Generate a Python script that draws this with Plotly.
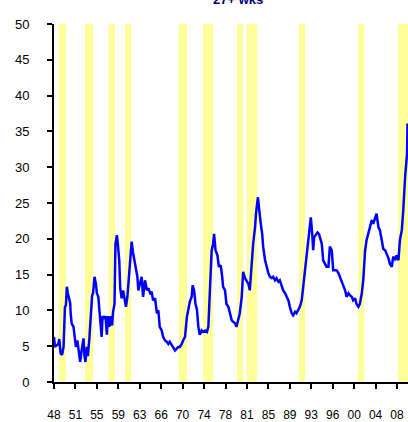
import plotly.graph_objects as go

# Monthly series
dates = [
    "1948-01","1948-03","1948-10","1948-12","1949-03","1949-06","1949-09","1949-10","1949-12","1950-02",
    "1950-04","1950-06","1950-11","1950-12","1951-02","1951-06","1951-08","1951-11","1952-02","1952-05",
    "1952-08","1952-11","1953-03","1953-05","1953-07","1953-10","1953-12","1954-03","1954-06","1954-09",
    "1954-11","1955-02","1955-05","1955-07","1955-10","1955-12","1956-03","1956-05","1956-07","1956-10",
    "1957-01","1957-04","1957-06","1957-09","1957-12","1958-03","1958-05","1958-08","1958-10","1959-01",
    "1959-03","1959-06","1959-08","1959-11","1960-02","1960-05","1960-08","1960-11","1961-02","1961-05",
    "1961-08","1961-11","1962-02","1962-05","1962-08","1962-10","1963-02","1963-05","1963-08","1963-12",
    "1964-04","1964-07","1964-11","1965-02","1965-05","1965-09","1966-01","1966-04","1966-07","1966-11",
    "1967-02","1967-06","1967-10","1968-01","1968-04","1968-08","1968-11","1969-03","1969-07","1969-10",
    "1970-01","1970-05","1970-08","1970-12","1971-04","1971-07","1971-10","1972-02","1972-04","1972-07",
    "1972-10","1973-01","1973-04","1973-07","1973-11","1974-02","1974-06","1974-10","1975-01","1975-04",
    "1975-08","1975-11","1976-01","1976-04","1976-08","1976-11","1977-03","1977-06","1977-08","1977-12",
    "1978-03","1978-07","1978-10","1979-02","1979-05","1979-09","1979-12","1980-04","1980-07","1980-11",
    "1981-02","1981-06","1981-09","1982-01","1982-04","1982-06","1982-08","1982-11","1983-03","1983-05",
    "1983-09","1983-12","1984-03","1984-06","1984-08","1984-12","1985-03","1985-07","1985-10","1986-02",
    "1986-05","1986-09","1986-12","1987-04","1987-07","1987-11","1988-02","1988-06","1988-09","1989-01",
    "1989-04","1989-08","1989-11","1990-03","1990-06","1990-10","1991-01","1991-05","1991-08","1991-12",
    "1992-03","1992-07","1992-10","1992-12","1993-03","1993-05","1993-07","1993-11","1994-02","1994-05",
    "1994-07","1994-11","1995-02","1995-06","1995-09","1996-01","1996-04","1996-08","1996-11","1997-03",
    "1997-06","1997-10","1998-01","1998-05","1998-08","1998-12","1999-03","1999-07","1999-10","2000-02",
    "2000-05","2000-09","2000-12","2001-04","2001-07","2001-11","2002-02","2002-06","2002-09","2003-01",
    "2003-04","2003-08","2003-11","2004-03","2004-06","2004-10","2005-01","2005-05","2005-08","2005-12",
    "2006-03","2006-07","2006-10","2007-02","2007-05","2007-09","2007-12","2008-04","2008-07","2008-11",
    "2009-02","2009-04","2009-06","2009-10","2009-11",
]
values = [
    6.3,4.9,5.3,6.0,4.0,3.8,4.9,7.7,10.5,10.7,
    13.3,12.4,11.0,9.6,8.2,7.7,6.3,4.9,5.8,4.0,
    2.8,4.4,6.1,3.6,2.8,4.9,3.6,5.8,8.6,12.1,
    12.4,14.7,13.7,12.4,11.9,10.1,8.6,6.3,9.2,8.8,
    9.2,6.6,9.2,7.7,9.2,7.9,9.8,10.9,19.3,20.5,
    19.3,17.0,13.1,11.7,12.8,11.4,10.5,11.9,14.7,17.5,
    19.6,18.0,17.0,16.2,14.7,12.8,14.2,14.7,11.9,14.2,
    12.8,13.1,12.4,12.6,11.4,11.7,9.6,10.0,7.7,7.2,
    6.3,5.8,5.6,5.3,5.6,5.1,4.9,4.4,4.7,4.9,
    4.9,5.3,5.8,6.3,9.1,10.5,11.2,11.9,13.5,12.8,
    10.9,10.1,7.7,6.6,7.2,7.0,7.2,7.0,7.7,12.4,
    18.4,19.3,20.7,18.4,17.7,16.1,16.3,14.7,13.3,12.8,
    10.9,10.5,9.6,8.6,8.4,8.2,7.7,9.1,9.6,11.9,
    15.4,14.5,14.2,13.7,12.8,14.7,16.8,19.3,21.6,23.5,
    25.8,23.5,22.1,20.7,18.9,17.0,16.1,15.2,14.7,14.5,
    14.7,14.2,14.5,14.0,14.2,13.3,12.8,12.4,11.9,11.4,
    10.5,9.6,9.3,9.8,9.6,10.1,10.5,11.4,13.3,15.2,
    17.0,19.3,21.6,23.0,20.7,18.4,20.2,20.7,20.9,20.7,
    20.2,19.3,17.0,16.5,16.1,16.1,18.9,18.4,15.6,15.6,
    15.6,15.2,14.7,14.2,13.7,12.8,11.9,12.4,12.1,11.9,
    11.4,11.7,10.9,10.5,10.9,12.4,14.2,18.4,19.8,20.7,
    21.6,22.6,22.1,23.0,23.5,21.6,21.2,19.8,18.6,18.4,
    17.9,17.3,16.5,16.1,17.5,17.0,17.7,17.0,19.8,21.2,
    24.0,27.0,28.7,31.9,36.1,
]

# Shaded periods (start, end)
shade_start = ["1948-11","1953-06","1957-08","1960-06","1969-11","1974-02",
               "1980-01","1981-10","1990-11","2001-03","2008-03"]
shade_end   = ["1950-02","1954-11","1958-09","1961-07","1971-04","1975-11",
               "1981-02","1983-07","1991-12","2002-04","2009-12"]

tick_dates = ["1948-01","1951-10","1955-07","1959-04","1963-01","1966-10","1970-07",
              "1974-04","1978-01","1981-10","1985-07","1989-04","1993-01","1996-10",
              "2000-07","2004-04","2008-01"]
tick_labels = ["48","51","55","59","63","66","70","74","78","81","85","89","93","96",
               "00","04","08"]
y_ticks = [0,5,10,15,20,25,30,35,40,45,50]

fig = go.Figure()
for s, e in zip(shade_start, shade_end):
    fig.add_vrect(x0=s + "-01", x1=e + "-01", fillcolor="#FFFF99", opacity=1,
                  line_width=0, layer="below")

fig.add_trace(go.Scatter(x=[d + "-01" for d in dates], y=values, mode="lines",
                         line=dict(color="#0000FF", width=2.5), showlegend=False))

fig.add_annotation(text="<b>27+ wks</b>", x=0.52, y=1.041, xref="paper", yref="paper",
                   xanchor="center", yanchor="bottom", showarrow=False,
                   font=dict(family="Liberation Sans, Arial", size=13, color="#000080"))

fig.update_layout(
    width=408, height=422,
    margin=dict(l=54, r=0, t=24, b=40),
    paper_bgcolor="white", plot_bgcolor="white",
    font=dict(family="Liberation Sans, Arial", color="black"),
)
fig.update_xaxes(
    type="date", range=["1948-01-01", "2009-12-01"], automargin=False,
    tickmode="array", tickvals=[d + "-01" for d in tick_dates], ticktext=tick_labels,
    ticks="outside", ticklen=5, tickwidth=2, tickcolor="black",
    showline=True, linecolor="black", linewidth=2, showgrid=False, zeroline=False,
    tickfont=dict(size=12), ticklabelstandoff=16, tickangle=0,
)
fig.update_yaxes(
    range=[0, 50], tickmode="array", tickvals=y_ticks, automargin=False,
    ticks="outside", ticklen=5, tickwidth=2, tickcolor="black",
    showline=True, linecolor="black", linewidth=2, showgrid=False, zeroline=False,
    tickfont=dict(size=13), ticklabelstandoff=15,
)
fig.write_html("out.html", config={"displayModeBar": False},
               post_script="document.body.style.margin='0';document.body.style.overflow='hidden';")
